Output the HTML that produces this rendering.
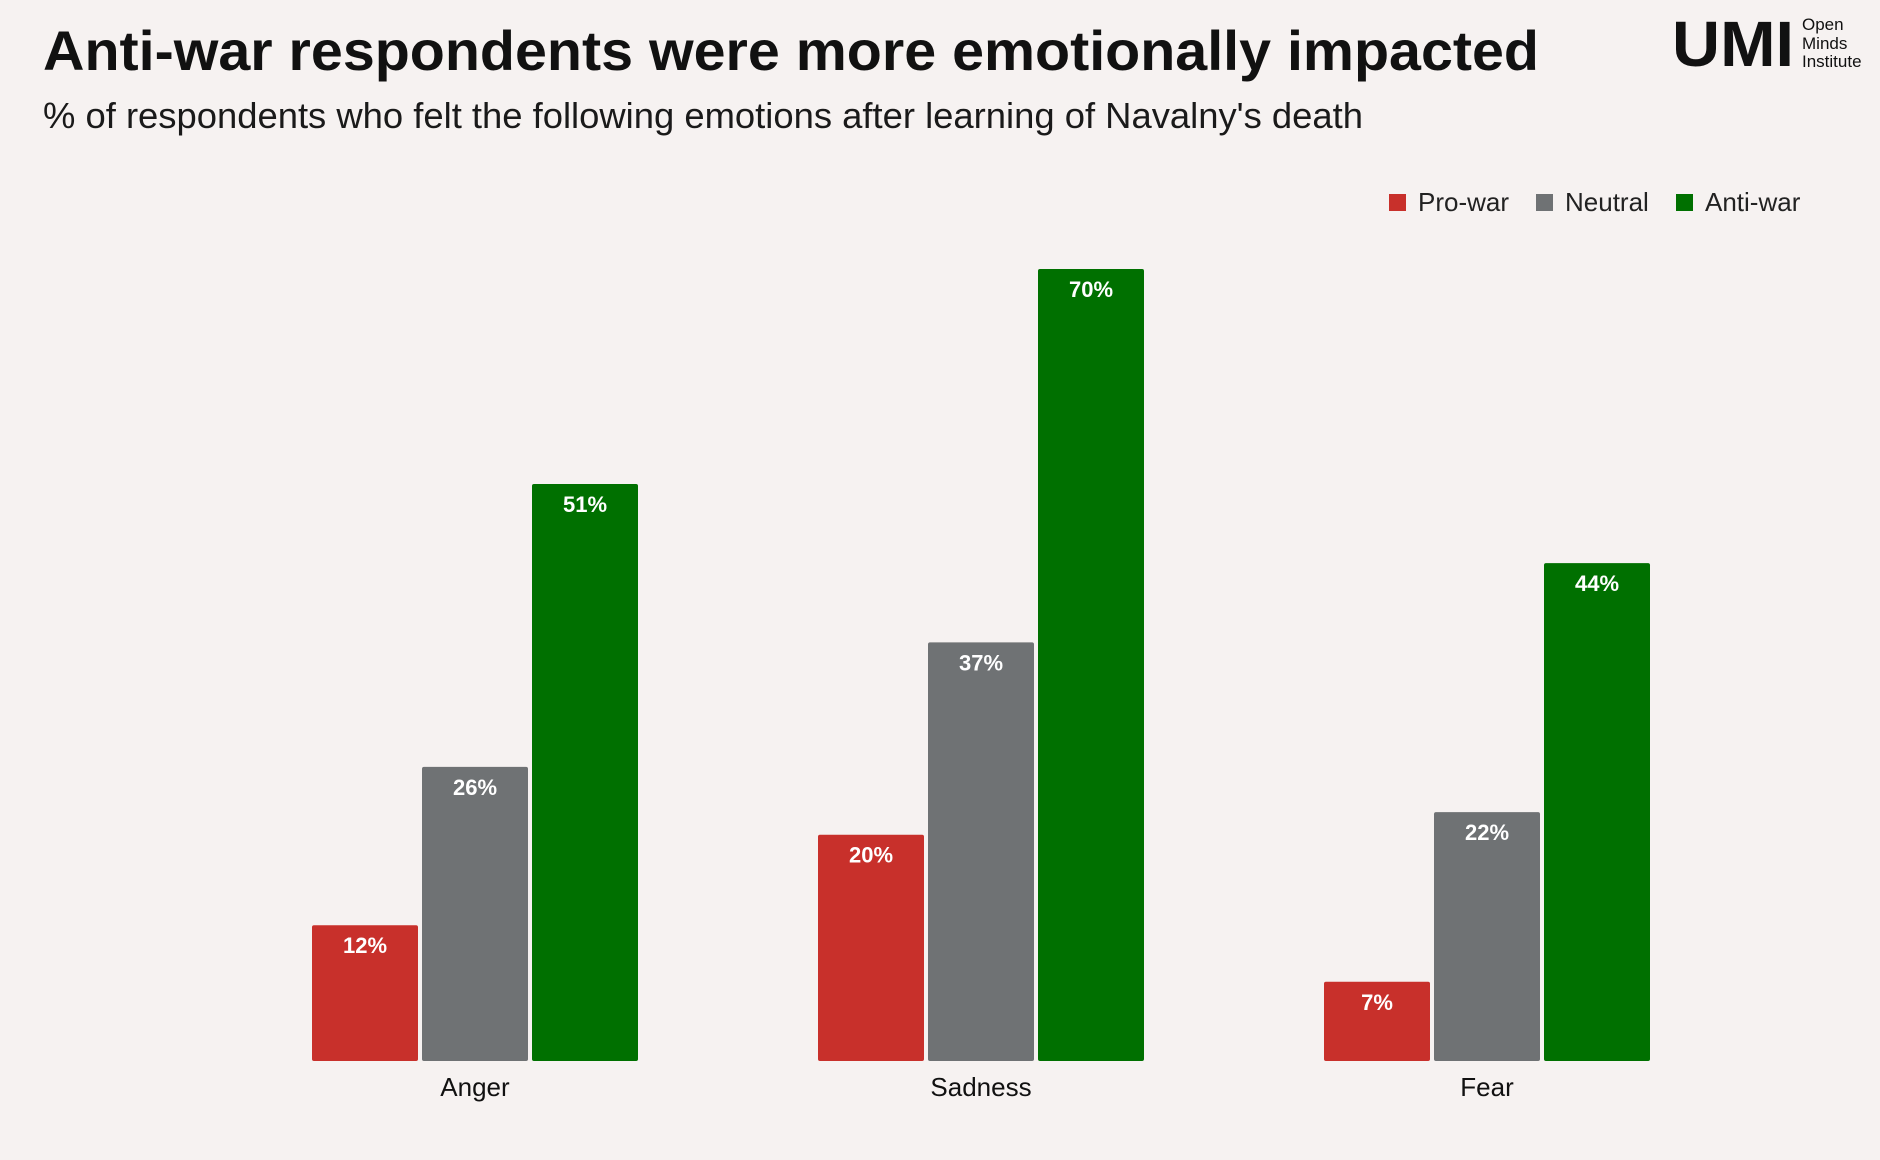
<!DOCTYPE html>
<html><head><meta charset="utf-8"><style>
html,body{margin:0;padding:0;background:#f6f2f1;}
svg{display:block;font-family:"Liberation Sans",sans-serif;}
</style></head><body>
<svg id="chart" width="1880" height="1160" viewBox="0 0 1880 1160">
<rect width="1880" height="1160" fill="#f6f2f1"/>
<text x="43" y="70" font-size="56" font-weight="bold" fill="#111" textLength="1496" lengthAdjust="spacingAndGlyphs">Anti-war respondents were more emotionally impacted</text>
<text x="43" y="128" font-size="36" fill="#1a1a1a" textLength="1320" lengthAdjust="spacingAndGlyphs">% of respondents who felt the following emotions after learning of Navalny's death</text>
<g>
<text x="1672" y="66" font-size="64" font-weight="bold" fill="#111" textLength="122" lengthAdjust="spacingAndGlyphs">UMI</text>
<text x="1802" y="30" font-size="17" fill="#111">Open</text>
<text x="1802" y="49" font-size="17" fill="#111">Minds</text>
<text x="1802" y="67" font-size="17" fill="#111">Institute</text>
</g>
<g id="legend"></g>
<g id="bars"></g>
</svg>
<script>
const categories = ["Anger", "Sadness", "Fear"];
const seriesNames = ["Pro-war", "Neutral", "Anti-war"];
const proWar = [12, 20, 7];
const neutral = [26, 37, 22];
const antiWar = [51, 70, 44];
const seriesValues = [proWar, neutral, antiWar];
const colors = ["#c8302b", "#6f7274", "#007000"];
const NS = "http://www.w3.org/2000/svg";
const baseY = 1061, pxPerPct = 792 / 70;
const groupX = i => 312 + i * 506;
const barW = 106, barStep = 110;
const y = v => baseY - v * pxPerPct;
const barsG = document.getElementById("bars");
function mk(tag, attrs, parent){ const e=document.createElementNS(NS,tag); for(const k in attrs) e.setAttribute(k,attrs[k]); parent.appendChild(e); return e; }
categories.forEach((c, i) => {
  seriesValues.forEach((vals, s) => {
    const v = vals[i];
    const x = groupX(i) + s * barStep;
    const r = mk("rect", {x:x, y:y(v), width:barW, height:baseY - y(v), fill:colors[s], rx:2}, barsG);
    
    
    const t = mk("text", {x:x + barW/2, y:y(v) + 28, "text-anchor":"middle", "font-size":22, "font-weight":"bold", fill:"#fff"}, barsG);
    t.textContent = v + "%";
    
    
  });
  const cl = mk("text", {x:groupX(i) + barStep + barW/2, y:1096, "text-anchor":"middle", "font-size":26, fill:"#111"}, barsG);
  cl.textContent = c;
  
  
});
const legendG = document.getElementById("legend");
const legX = [1389, 1536, 1676];
seriesNames.forEach((n, s) => {
  const sq = mk("rect", {x:legX[s], y:194, width:17, height:17, fill:colors[s]}, legendG);
  
  
  const t = mk("text", {x:legX[s] + 29, y:211, "font-size":26, fill:"#222"}, legendG);
  t.textContent = n;
  
  
});
</script>
</body></html>
